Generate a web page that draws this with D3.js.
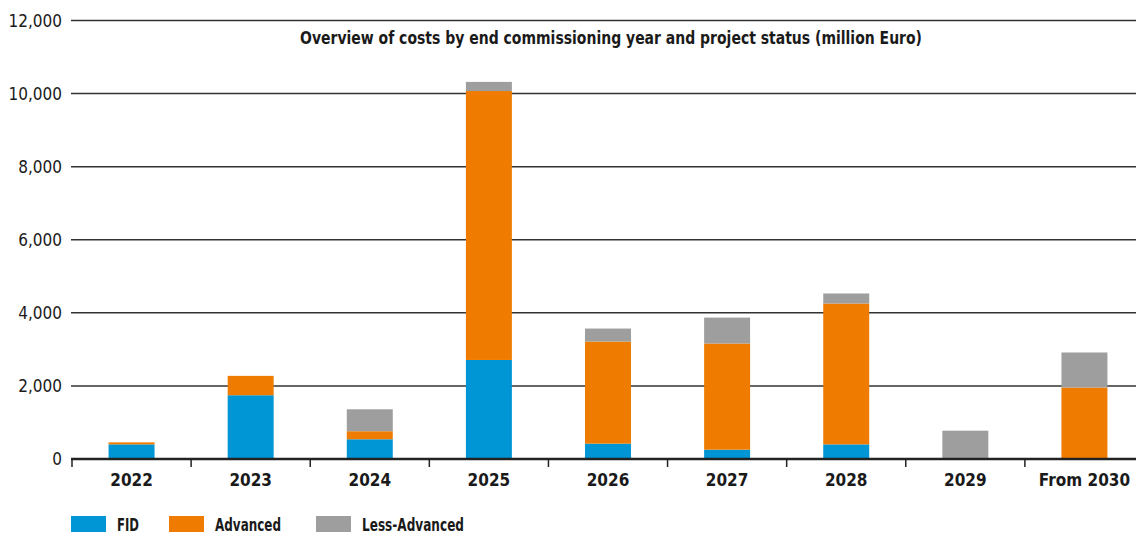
<!DOCTYPE html>
<html>
<head>
<meta charset="utf-8">
<script src="https://cdn.jsdelivr.net/npm/d3@7"></script>
<style>
  html, body { margin: 0; padding: 0; background: #fff; }
  svg { display: block; }
  text { font-family: "DejaVu Sans Condensed", "DejaVu Sans", sans-serif; font-stretch: condensed; fill: #1a1a1a; }
</style>
</head>
<body>
<svg id="chart" width="1136" height="534"></svg>
<script>
const categories = ["2022", "2023", "2024", "2025", "2026", "2027", "2028", "2029", "From 2030"];
const fid          = [400, 1745, 540, 2710, 420, 255, 400, 0, 0];
const advanced     = [55, 530, 220, 7360, 2795, 2905, 3855, 0, 1955];
const lessAdvanced = [0, 0, 600, 250, 355, 710, 275, 775, 960];
const seriesNames  = ["FID", "Advanced", "Less-Advanced"];
const yTicks       = [0, 2000, 4000, 6000, 8000, 10000, 12000];
const title = "Overview of costs by end commissioning year and project status (million Euro)";

const colors = ["#0096d6", "#ef7c00", "#9d9e9d"];

const rows = categories.map((c, i) => ({ cat: c, FID: fid[i], Advanced: advanced[i], "Less-Advanced": lessAdvanced[i] }));
const stacked = d3.stack().keys(seriesNames)(rows);

const svg = d3.select("#chart");
const x = d3.scaleBand().domain(categories).range([72, 1144]).paddingInner(0.614).paddingOuter(0.307);
const y = d3.scaleLinear().domain([0, 12000]).range([459, 20.5]);

// gridlines
svg.append("g").selectAll("line").data(yTicks.filter(d => d > 0)).join("line")
  .attr("x1", 71).attr("x2", 1136)
  .attr("y1", d => y(d)).attr("y2", d => y(d))
  .attr("stroke", "#333").attr("stroke-width", 1.5);

// y labels
svg.append("g").selectAll("text").data(yTicks).join("text")
  .attr("x", 62).attr("y", d => y(d)).attr("dy", "0.36em")
  .attr("text-anchor", "end").style("font-size", "17px")
  .text(d => d3.format(",")(d));

// title
svg.append("text").attr("x", 611).attr("y", 44).attr("text-anchor", "middle")
  .style("font-size", "17px").style("font-weight", "bold")
  .attr("textLength", 622).attr("lengthAdjust", "spacingAndGlyphs")
  .text(title);

// bars
svg.append("g").selectAll("g").data(stacked).join("g")
  .attr("fill", (d, i) => colors[i])
  .selectAll("rect").data(d => d).join("rect")
  .attr("x", d => x(d.data.cat))
  .attr("width", x.bandwidth())
  .attr("y", d => y(d[1]))
  .attr("height", d => Math.max(0, y(d[0]) - y(d[1])));

// x axis baseline
svg.append("line").attr("x1", 71).attr("x2", 1136).attr("y1", y(0)).attr("y2", y(0))
  .attr("stroke", "#222").attr("stroke-width", 2.5);

// ticks at band boundaries
svg.append("g").selectAll("line").data(categories).join("line")
  .attr("x1", d => x(d) + x.bandwidth() / 2 - x.step() / 2)
  .attr("x2", d => x(d) + x.bandwidth() / 2 - x.step() / 2)
  .attr("y1", y(0)).attr("y2", y(0) + 8)
  .attr("stroke", "#222").attr("stroke-width", 1.5);

// x labels
svg.append("g").selectAll("text").data(categories).join("text")
  .attr("x", d => x(d) + x.bandwidth() / 2).attr("y", 485.5)
  .attr("text-anchor", "middle").style("font-size", "17px").style("font-weight", "bold")
  .text(d => d);

// legend
const legX = [71, 169, 316];
const legW = [22, 66, 102];
const leg = svg.append("g").selectAll("g").data(seriesNames).join("g")
  .attr("transform", (d, i) => `translate(${legX[i]},516)`);
leg.append("rect").attr("width", 35).attr("height", 16).attr("fill", (d, i) => colors[i]);
leg.append("text").attr("x", 46).attr("y", 14.8)
  .style("font-size", "17px").style("font-weight", "bold")
  .attr("textLength", (d, i) => legW[i]).attr("lengthAdjust", "spacingAndGlyphs")
  .text(d => d);
</script>
</body>
</html>
